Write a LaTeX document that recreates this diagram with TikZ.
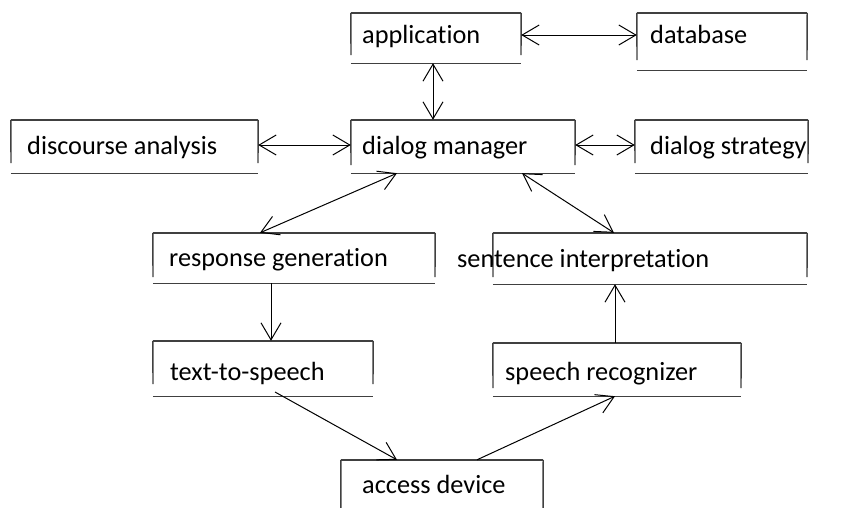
\documentclass[tikz,border=0pt]{standalone}
\usepackage{fontspec}
\setmainfont{Carlito}[Ligatures=NoCommon]
\usetikzlibrary{arrows.meta,fit}
\tikzset{
  boxline/.style={draw=black!75, line width=1.4pt},
  lbl/.style={anchor=base west, inner sep=0pt, font=\fontsize{26.3}{30}\selectfont},
  tip/.tip={Straight Barb[length=17pt,width=20pt,line width=1pt]},
  arr/.style={-tip, line width=1pt, draw=black},
  darr/.style={tip-tip, line width=1pt, draw=black},
}
% name, x1, y1, x2, y(vertical end), y(bottom line)
\newcommand\mkbox[6]{%
  \node[inner sep=0pt, fit={(#2,#3) (#4,#6)}] (#1) {};
  \draw[boxline] (#1.north west) -- (#1.north east);
  \draw[boxline] (#1.north west) -- (#2,#5);
  \draw[boxline] (#1.north east) -- (#4,#5);
  \draw[boxline] (#1.south west) -- (#1.south east);
}
\begin{document}
\begin{tikzpicture}[x=1pt,y=-1pt]
\clip (0,0) rectangle (841,507);
\fill[white] (0,0) rectangle (841,507);

\mkbox{app}{351}{13}{521}{55}{63}
\mkbox{db}{637}{13}{807}{60}{70}
\mkbox{da}{11}{120}{258}{163}{173}
\mkbox{dm}{351}{120}{575}{165}{173}
\mkbox{ds}{635}{120}{808}{163}{173}
\mkbox{rg}{153}{233}{435}{277}{283}
\mkbox{si}{493}{233}{807}{277}{284}
\mkbox{tts}{153}{341}{373}{384}{396}
\mkbox{sr}{493}{343}{741}{388}{396}
\mkbox{ad}{341}{460}{543}{530}{535}

\node[lbl] (appT) at (362,43) {application};
\node[lbl] (dbT) at (650,43) {database};
\node[lbl] (daT) at (27,154) {discourse analysis};
\node[lbl] (dmT) at (362,154) {dialog manager};
\node[lbl] (dsT) at (650,154) {dialog strategy};
\node[lbl] (rgT) at (169,266) {response generation};
\node[lbl] (siT) at (457,267) {sentence interpretation};
\node[lbl] (ttsT) at (170,380) {text-to-speech};
\node[lbl] (srT) at (505,380) {speech recognizer};
\node[lbl] (adT) at (362,493) {access device};

\draw[darr] (app.east |- 0,35) -- (db.west |- 0,35);
\draw[darr] (433,0 |- app.south) -- (433,0 |- dm.north);
\draw[darr] (da.east |- 0,145) -- (dm.west |- 0,145);
\draw[darr] (dm.east |- 0,145) -- (ds.west |- 0,145);
\draw[darr] (397,0 |- dm.south) -- (260,0 |- rg.north);
\draw[darr] (522,0 |- dm.south) -- (614,0 |- si.north);
\draw[arr] (271,0 |- rg.south) -- (271,0 |- tts.north);
\draw[arr] (275,392) -- (397,0 |- ad.north);
\draw[arr] (477,0 |- ad.north) -- (615,0 |- sr.south);
\draw[arr] (615,0 |- sr.north) -- (615,0 |- si.south);
\end{tikzpicture}
\end{document}
